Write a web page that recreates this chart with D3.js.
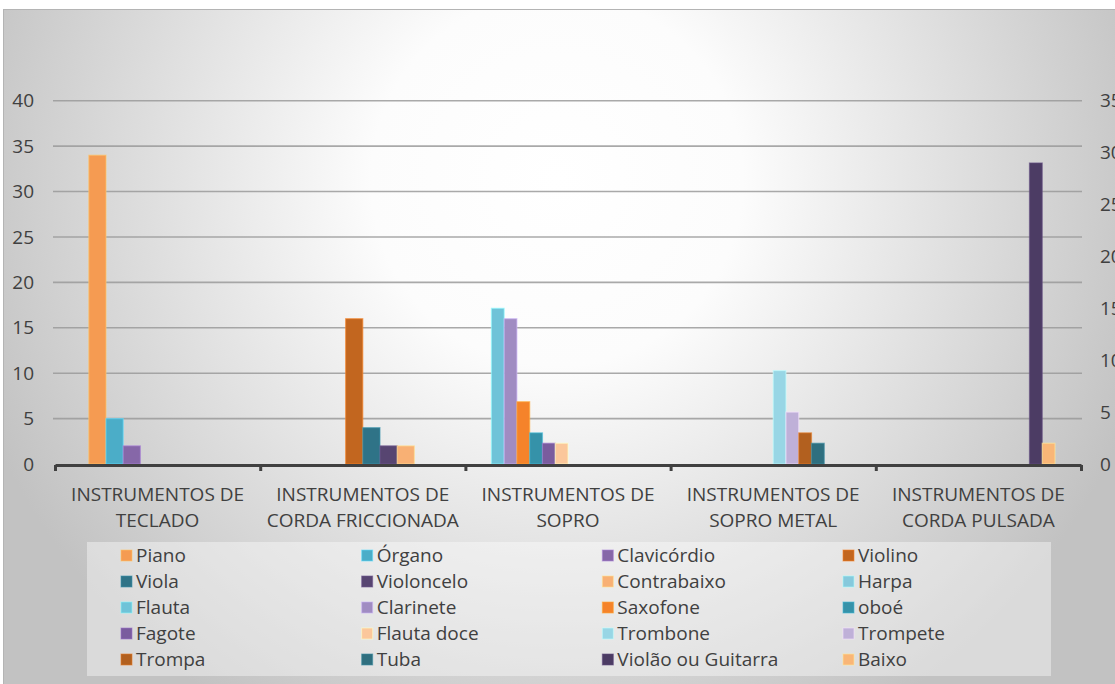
<!DOCTYPE html>
<html>
<head>
<meta charset="utf-8">
<script src="https://cdn.jsdelivr.net/npm/d3@7/dist/d3.min.js"></script>
<style>
  html, body { margin: 0; padding: 0; background: #ffffff; }
  svg { display: block; font-family: "Open Sans", "Noto Sans", sans-serif; }
</style>
</head>
<body>
<svg id="chart" width="1115" height="684"></svg>
<script>
// Instrument families (x categories)
const categories = [
  ["INSTRUMENTOS DE", "TECLADO"],
  ["INSTRUMENTOS DE", "CORDA FRICCIONADA"],
  ["INSTRUMENTOS DE", "SOPRO"],
  ["INSTRUMENTOS DE", "SOPRO METAL"],
  ["INSTRUMENTOS DE", "CORDA PULSADA"]
];

// Series plotted against the left axis
const primarySeries = ["Piano", "Órgano", "Clavicórdio", "Violino", "Viola", "Violoncelo", "Contrabaixo", "Harpa"];
const primaryValues = [
  [34, 0, 0, 0, 0],   // Piano
  [5, 0, 0, 0, 0],    // Órgano
  [2, 0, 0, 0, 0],    // Clavicórdio
  [0, 16, 0, 0, 0],   // Violino
  [0, 4, 0, 0, 0],    // Viola
  [0, 2, 0, 0, 0],    // Violoncelo
  [0, 2, 0, 0, 0],    // Contrabaixo
  [0, 0, 0, 0, 0]     // Harpa
];

// Series plotted against the right axis
const secondarySeries = ["Flauta", "Clarinete", "Saxofone", "oboé", "Fagote", "Flauta doce",
                         "Trombone", "Trompete", "Trompa", "Tuba", "Violão ou Guitarra", "Baixo"];
const secondaryValues = [
  [0, 0, 15, 0, 0],   // Flauta
  [0, 0, 14, 0, 0],   // Clarinete
  [0, 0, 6, 0, 0],    // Saxofone
  [0, 0, 3, 0, 0],    // oboé
  [0, 0, 2, 0, 0],    // Fagote
  [0, 0, 2, 0, 0],    // Flauta doce
  [0, 0, 0, 9, 0],    // Trombone
  [0, 0, 0, 5, 0],    // Trompete
  [0, 0, 0, 3, 0],    // Trompa
  [0, 0, 0, 2, 0],    // Tuba
  [0, 0, 0, 0, 29],   // Violão ou Guitarra
  [0, 0, 0, 0, 2]     // Baixo
];

// Axis tick values
const leftTicks = [0, 5, 10, 15, 20, 25, 30, 35, 40];
const rightTicks = [0, 5, 10, 15, 20, 25, 30, 35];

// Legend order (four columns, row by row)
const legendOrder = ["Piano", "Órgano", "Clavicórdio", "Violino",
                     "Viola", "Violoncelo", "Contrabaixo", "Harpa",
                     "Flauta", "Clarinete", "Saxofone", "oboé",
                     "Fagote", "Flauta doce", "Trombone", "Trompete",
                     "Trompa", "Tuba", "Violão ou Guitarra", "Baixo"];

// Fill colours per series
const seriesColors = {
  "Piano": "#f59b52", "Órgano": "#4badc8", "Clavicórdio": "#8667a8", "Violino": "#c2661f",
  "Viola": "#2f7387", "Violoncelo": "#574571", "Contrabaixo": "#f8b074", "Harpa": "#86c9dc",
  "Flauta": "#6fc3d8", "Clarinete": "#a08cc2", "Saxofone": "#f5832a", "oboé": "#3592a9",
  "Fagote": "#7a5c9e", "Flauta doce": "#fbc79b", "Trombone": "#98d6e5", "Trompete": "#bfb0d8",
  "Trompa": "#b2601f", "Tuba": "#2f6f7f", "Violão ou Guitarra": "#4c3c64", "Baixo": "#f9b677"
};

const svg = d3.select("#chart");
const W = 1115, H = 684;

// ---- background ----
const defs = svg.append("defs");
const grad = defs.append("radialGradient")
  .attr("id", "bgGrad")
  .attr("gradientUnits", "userSpaceOnUse")
  .attr("cx", 557).attr("cy", 180).attr("r", 620);
grad.append("stop").attr("offset", 0).attr("stop-color", "#ffffff");
grad.append("stop").attr("offset", 0.3).attr("stop-color", "#fcfcfc");
grad.append("stop").attr("offset", 1).attr("stop-color", "#c2c2c2");

svg.append("rect")
  .attr("x", 3.5).attr("y", 9.5)
  .attr("width", W + 40).attr("height", H + 40)
  .attr("fill", "url(#bgGrad)")
  .attr("stroke", "#b4b4b4").attr("stroke-width", 1);

// ---- scales ----
const plotLeft = 55, plotRight = 1081;
const y0 = 464, yTop = 100.7;

const x0 = d3.scaleBand()
  .domain(d3.range(categories.length))
  .range([plotLeft, plotRight])
  .padding(0);
const bw = x0.bandwidth();

const x1Primary = d3.scaleBand()
  .domain(primarySeries)
  .range([33.8, bw - 33.8])
  .padding(0);

const x1Secondary = d3.scaleBand()
  .domain(secondarySeries)
  .range([26, bw - 26])
  .padding(0);

const yLeft = d3.scaleLinear().domain([0, 40]).range([y0, yTop]);
const yRight = d3.scaleLinear().domain([0, 35]).range([y0, yTop]);

const textColor = "#404040";
const fontSize = 19;

// ---- gridlines ----
svg.append("g")
  .selectAll("line")
  .data(leftTicks.filter(t => t > 0))
  .join("line")
  .attr("x1", plotLeft - 2).attr("x2", plotRight + 1)
  .attr("y1", d => yLeft(d)).attr("y2", d => yLeft(d))
  .attr("stroke", "#9a9a9a")
  .attr("stroke-opacity", 0.85)
  .attr("stroke-width", 1.6);

// ---- bars ----
function drawBars(series, values, x1, yScale) {
  const rows = [];
  series.forEach((name, si) => {
    values[si].forEach((v, ci) => {
      if (v > 0) rows.push({ name, ci, v });
    });
  });
  svg.append("g")
    .selectAll("rect")
    .data(rows)
    .join("rect")
    .attr("x", d => x0(d.ci) + x1(d.name))
    .attr("y", d => yScale(d.v))
    .attr("width", x1.bandwidth())
    .attr("height", d => y0 - yScale(d.v))
    .attr("fill", d => seriesColors[d.name])
    .attr("stroke", d => d3.color(seriesColors[d.name]).brighter(0.7))
    .attr("stroke-opacity", 0.6)
    .attr("stroke-width", 1.2);
}
drawBars(primarySeries, primaryValues, x1Primary, yLeft);
drawBars(secondarySeries, secondaryValues, x1Secondary, yRight);

// ---- left axis ----
const leftAxis = svg.append("g")
  .attr("transform", `translate(${plotLeft},0)`)
  .call(d3.axisLeft(yLeft).tickValues(leftTicks).tickSize(0).tickPadding(21));
leftAxis.select(".domain").remove();
leftAxis.selectAll("text")
  .attr("fill", textColor).attr("font-size", fontSize)
  .attr("font-family", "'Open Sans', sans-serif");

// ---- right axis ----
const rightAxis = svg.append("g")
  .attr("transform", `translate(${plotRight},0)`)
  .call(d3.axisRight(yRight).tickValues(rightTicks).tickSize(0).tickPadding(19));
rightAxis.select(".domain").remove();
rightAxis.selectAll("text")
  .attr("fill", textColor).attr("font-size", fontSize)
  .attr("font-family", "'Open Sans', sans-serif");

// ---- category axis (line with boundary ticks) ----
const xBound = d3.scaleLinear().domain([0, categories.length]).range([plotLeft, plotRight]);
const bottomAxis = svg.append("g")
  .attr("transform", `translate(0,${y0 + 1})`)
  .call(d3.axisBottom(xBound)
    .tickValues(d3.range(categories.length + 1))
    .tickFormat("")
    .tickSizeInner(6)
    .tickSizeOuter(0));
bottomAxis.select(".domain").attr("stroke", "#404040").attr("stroke-width", 3.2);
bottomAxis.selectAll(".tick line").attr("stroke", "#404040").attr("stroke-width", 3);

// category labels, two lines each
const catG = svg.append("g")
  .attr("fill", textColor)
  .attr("font-size", fontSize)
  .attr("text-anchor", "middle");
categories.forEach((lines, ci) => {
  const cx = x0(ci) + bw / 2;
  lines.forEach((txt, li) => {
    catG.append("text")
      .attr("x", cx)
      .attr("y", 501 + li * 26)
      .text(txt);
  });
});

// ---- legend ----
const legendBox = { x: 87, y: 542, w: 964, h: 134 };
svg.append("rect")
  .attr("x", legendBox.x).attr("y", legendBox.y)
  .attr("width", legendBox.w).attr("height", legendBox.h)
  .attr("fill", "#ffffff").attr("fill-opacity", 0.4);

const colX = d3.scalePoint().domain(d3.range(4)).range([121, 843]);
const legend = svg.append("g").attr("font-size", fontSize).attr("fill", textColor);
const items = legend.selectAll("g")
  .data(legendOrder)
  .join("g")
  .attr("transform", (d, i) => `translate(${colX(i % 4)},${562 + Math.floor(i / 4) * 26})`);
items.append("rect")
  .attr("x", 0).attr("y", -12)
  .attr("width", 11).attr("height", 11)
  .attr("fill", d => seriesColors[d])
  .attr("stroke", d => d3.color(seriesColors[d]).brighter(0.7))
  .attr("stroke-opacity", 0.6)
  .attr("stroke-width", 1);
items.append("text")
  .attr("x", 15)
  .attr("y", 0)
  .text(d => d);
</script>
</body>
</html>
